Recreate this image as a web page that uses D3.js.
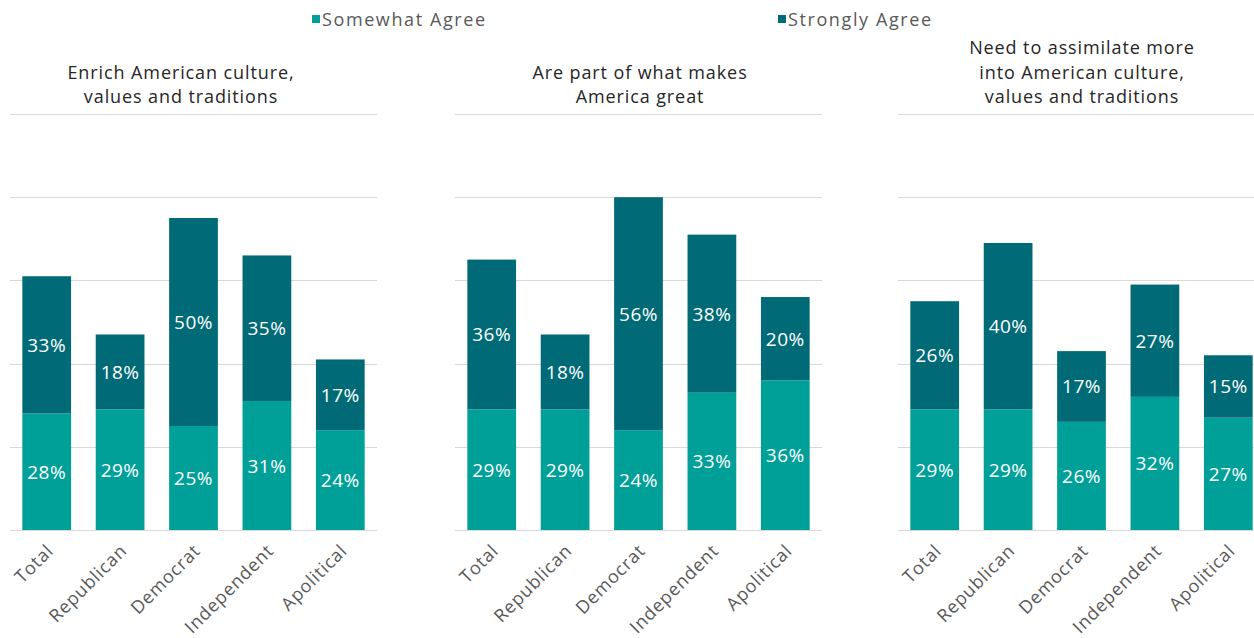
<!DOCTYPE html>
<html>
<head>
<meta charset="utf-8">
<script src="https://cdn.jsdelivr.net/npm/d3@7"></script>
<style>
  html, body { margin: 0; padding: 0; background: #fff; }
  svg { display: block; }
  text { font-family: "Open Sans", "Noto Sans", sans-serif; }
</style>
</head>
<body>
<svg id="chart" width="1254" height="638"></svg>
<script>
// Survey results: share agreeing with each statement, by party identification
const categories = ["Total", "Republican", "Democrat", "Independent", "Apolitical"];
const seriesNames = ["Somewhat Agree", "Strongly Agree"];

const enrichSomewhat = [28, 29, 25, 31, 24];
const enrichStrongly = [33, 18, 50, 35, 17];

const greatSomewhat = [29, 29, 24, 33, 36];
const greatStrongly = [36, 18, 56, 38, 20];

const assimilateSomewhat = [29, 29, 26, 32, 27];
const assimilateStrongly = [26, 40, 17, 27, 15];

const panelTitles = [
  ["Enrich American culture,", "values and traditions"],
  ["Are part of what makes", "America great"],
  ["Need to assimilate more", "into American culture,", "values and traditions"]
];
const gridTicks = [0, 20, 40, 60, 80, 100];

const panels = [
  { title: panelTitles[0], somewhat: enrichSomewhat, strongly: enrichStrongly },
  { title: panelTitles[1], somewhat: greatSomewhat, strongly: greatStrongly },
  { title: panelTitles[2], somewhat: assimilateSomewhat, strongly: assimilateStrongly }
];

const colors = { "Somewhat Agree": "#00a099", "Strongly Agree": "#006a76" };

const svg = d3.select("#chart");

// layout
const panelLeft = [10, 455, 898];
const panelWidth = 367;
const titleCenter = [181, 640, 1082];
const y = d3.scaleLinear().domain([0, 100]).range([530, 114]);

// legend
const legendItems = [
  { name: seriesNames[0], x: 312 },
  { name: seriesNames[1], x: 778 }
];
const legend = svg.append("g");
legendItems.forEach(d => {
  legend.append("rect")
    .attr("x", d.x).attr("y", 15).attr("width", 8).attr("height", 8)
    .attr("fill", colors[d.name]);
  legend.append("text")
    .attr("x", d.x + 10).attr("y", 19)
    .attr("dominant-baseline", "central")
    .attr("font-size", 18).attr("letter-spacing", 1.6)
    .attr("fill", "#595959")
    .text(d.name);
});

panels.forEach((p, i) => {
  const g = svg.append("g");
  const x = d3.scaleBand()
    .domain(categories)
    .range([panelLeft[i], panelLeft[i] + panelWidth])
    .paddingInner(0.336)
    .paddingOuter(0.168);

  // gridlines
  g.selectAll("line.grid")
    .data(gridTicks)
    .join("line")
    .attr("x1", panelLeft[i])
    .attr("x2", panelLeft[i] + panelWidth)
    .attr("y1", d => Math.round(y(d)) + 0.5)
    .attr("y2", d => Math.round(y(d)) + 0.5)
    .attr("stroke", "#d9d9d9")
    .attr("stroke-width", 1.2);

  // title
  const lines = p.title;
  const lastY = 96;
  g.selectAll("text.title")
    .data(lines)
    .join("text")
    .attr("x", titleCenter[i])
    .attr("y", (d, k) => lastY - (lines.length - 1 - k) * 24.5)
    .attr("text-anchor", "middle")
    .attr("dominant-baseline", "central")
    .attr("font-size", 18)
    .attr("letter-spacing", 0.9)
    .attr("fill", "#262626")
    .text(d => d);

  // stacked data
  const rows = categories.map((c, k) => ({
    category: c,
    "Somewhat Agree": p.somewhat[k],
    "Strongly Agree": p.strongly[k]
  }));
  const stacked = d3.stack().keys(seriesNames)(rows);

  stacked.forEach(layer => {
    const lg = g.append("g");
    lg.selectAll("rect")
      .data(layer)
      .join("rect")
      .attr("x", d => x(d.data.category))
      .attr("width", x.bandwidth())
      .attr("y", d => y(d[1]))
      .attr("height", d => y(d[0]) - y(d[1]))
      .attr("fill", colors[layer.key]);
    lg.selectAll("text")
      .data(layer)
      .join("text")
      .attr("x", d => x(d.data.category) + x.bandwidth() / 2)
      .attr("y", d => (y(d[0]) + y(d[1])) / 2)
      .attr("text-anchor", "middle")
      .attr("dominant-baseline", "central")
      .attr("font-family", "Roboto, sans-serif")
      .attr("font-size", 19)
      .attr("letter-spacing", 0.5)
      .attr("fill", "#ffffff")
      .text(d => (d[1] - d[0]) + "%");
  });

  // category labels
  g.selectAll("text.cat")
    .data(categories)
    .join("text")
    .attr("transform", d => `translate(${x(d) + x.bandwidth() / 2 + 3},${547}) rotate(-45)`)
    .attr("text-anchor", "end")
    .attr("dominant-baseline", "central")
    .attr("font-size", 18)
    .attr("letter-spacing", 0.8)
    .attr("fill", "#595959")
    .text(d => d);
});
</script>
</body>
</html>
